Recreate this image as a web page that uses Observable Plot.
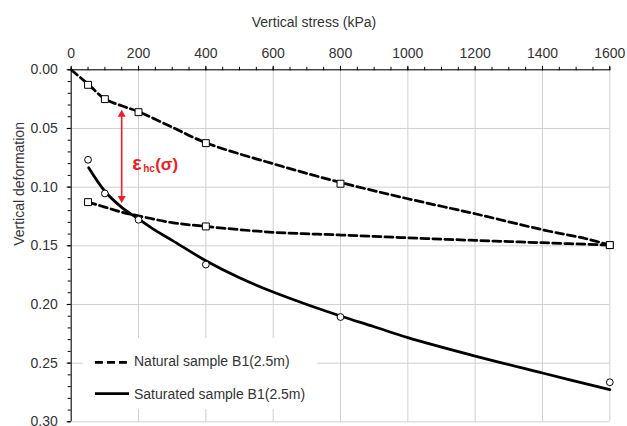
<!DOCTYPE html>
<html>
<head>
<meta charset="utf-8">
<script src="https://cdn.jsdelivr.net/npm/d3@7"></script>
<script src="https://cdn.jsdelivr.net/npm/@observablehq/plot@0.6"></script>
<style>
  html, body { margin: 0; padding: 0; background: #fff; }
  #wrap { position: relative; width: 627px; height: 426px; overflow: hidden; }
  #legend { position: absolute; left: 83px; top: 338px; width: 234px; height: 71px; background: #fff; }
</style>
</head>
<body>
<div id="wrap"></div>
<script>
// ---- tick labels ----
const xTicks = [0, 200, 400, 600, 800, 1000, 1200, 1400, 1600];
const yTicks = [0, 0.05, 0.10, 0.15, 0.20, 0.25, 0.30];

// ---- series names ----
const seriesNames = ["Natural sample B1(2.5m)", "Saturated sample B1(2.5m)"];

// ---- measured points ----
const stressPts = [50, 100, 200, 400, 800, 1600];
const naturalPts = [0.0128, 0.0250, 0.0361, 0.0625, 0.0971, 0.1494];
const naturalWetStress = [50, 400, 1600];
const naturalWetPts = [0.1128, 0.1335, 0.1494];
const saturatedPts = [0.0767, 0.1054, 0.1278, 0.1660, 0.2107, 0.2663];

// ---- curves ----
const upperCurveStress = [0, 50, 100, 150, 200, 300, 400, 600, 800, 1000, 1200, 1400, 1530, 1600];
const upperCurve = [0, 0.0122, 0.0248, 0.0307, 0.0357, 0.0489, 0.0622, 0.0801, 0.0960, 0.1099, 0.1227, 0.1363, 0.1440, 0.1494];
const lowerCurveStress = [50, 100, 150, 200, 300, 400, 600, 800, 1000, 1200, 1400, 1600];
const lowerCurve = [0.1128, 0.1170, 0.1213, 0.1245, 0.1303, 0.1335, 0.1385, 0.1408, 0.1432, 0.1454, 0.1474, 0.1494];
const satCurveStress = [52, 100, 150, 200, 250, 300, 400, 500, 600, 700, 800, 900, 1000, 1200, 1400, 1600];
const satCurve = [0.0835, 0.1035, 0.1172, 0.1272, 0.1369, 0.1454, 0.1627, 0.1772, 0.1894, 0.2000, 0.2098, 0.2190, 0.2283, 0.2440, 0.2584, 0.2726];

// ---- annotation (arrow at sigma = 150 kPa) ----
const arrowStress = 150;
const arrowEnds = [0.034, 0.1136];
const labelStress = 181;
const labelDeform = 0.0858;

// ---- build tables ----
const zip = (xs, ys) => xs.map((x, i) => ({x, y: ys[i]}));
const natural = zip(stressPts, naturalPts);
const naturalWet = zip(naturalWetStress, naturalWetPts);
const saturated = zip(stressPts, saturatedPts);
const upper = zip(upperCurveStress, upperCurve);
const lower = zip(lowerCurveStress, lowerCurve);
const sat = zip(satCurveStress, satCurve);

const W = 627, H = 426;
const mL = 70.7, mR = 17.7, mT = 69.3, mB = 4.7;
const red = "#ee1f26";
const txt = "#333";
const font = "'Liberation Sans', Arial, sans-serif";
const dash = "8,4";
const lw = 2.75;

const plot = Plot.plot({
  width: W, height: H,
  marginLeft: mL, marginRight: mR, marginTop: mT, marginBottom: mB,
  style: {fontFamily: font, fontSize: "14px", color: txt, background: "#fff", overflow: "visible"},
  x: {domain: [0, 1600]},
  y: {domain: [0, 0.30], reverse: true},
  marks: [
    Plot.gridX(xTicks, {stroke: "#d0d0d0", strokeOpacity: 1, strokeWidth: 1}),
    Plot.gridY(yTicks, {stroke: "#d0d0d0", strokeOpacity: 1, strokeWidth: 1}),
    Plot.ruleY([0], {stroke: "black"}),
    Plot.ruleX([0], {stroke: "black"}),
    Plot.axisX(d3.range(0, 1601, 50), {anchor: "top", tickSize: 3.5, tickFormat: () => "", stroke: "black", label: null}),
    Plot.axisX(xTicks, {anchor: "top", tickSize: 4.5, tickPadding: 7.5, tickFormat: d => String(d), stroke: "black", fill: txt, fontSize: 14, label: null}),
    Plot.axisY(d3.range(0, 0.3001, 0.01), {anchor: "left", tickSize: 3, tickFormat: () => "", stroke: "black", label: null}),
    Plot.axisY(yTicks, {anchor: "left", tickSize: 4, tickPadding: 9.4, tickFormat: d3.format(".2f"), stroke: "black", fill: txt, fontSize: 14, label: null}),
    Plot.text(["Vertical stress (kPa)"], {text: d => d, frameAnchor: "top", dx: W / 2 - (mL + (W - mR)) / 2, dy: -43.3, lineAnchor: "bottom", fill: txt, fontSize: 14}),
    Plot.text(["Vertical deformation"], {text: d => d, frameAnchor: "left", rotate: -90, dx: -51.2, lineAnchor: "middle", fill: txt, fontSize: 14}),
    // curves
    Plot.line(upper, {x: "x", y: "y", curve: "catmull-rom", stroke: "black", strokeWidth: lw, strokeDasharray: dash}),
    Plot.line(lower, {x: "x", y: "y", curve: "catmull-rom", stroke: "black", strokeWidth: lw, strokeDasharray: dash}),
    Plot.line(sat, {x: "x", y: "y", curve: "catmull-rom", stroke: "black", strokeWidth: lw}),
    // points
    Plot.dot(natural, {x: "x", y: "y", symbol: "square", r: 3.9, fill: "white", stroke: "black", strokeWidth: 1}),
    Plot.dot(naturalWet, {x: "x", y: "y", symbol: "square", r: 3.9, fill: "white", stroke: "black", strokeWidth: 1}),
    Plot.dot(saturated, {x: "x", y: "y", symbol: "circle", r: 3.4, fill: "white", stroke: "black", strokeWidth: 1}),
    // arrow annotation
    Plot.ruleX([arrowStress], {x: d => d, y1: arrowEnds[0] + 0.003, y2: arrowEnds[1] - 0.003, stroke: red, strokeWidth: 1.6}),
    Plot.dot([arrowEnds[0]], {x: () => arrowStress, y: d => d, symbol: "triangle", r: 3, fill: red, stroke: "none", dy: 4.67}),
    Plot.dot([arrowEnds[1]], {x: () => arrowStress, y: d => d, symbol: "triangle", r: 3, rotate: 180, fill: red, stroke: "none", dy: -4.67}),
    Plot.text(["ε"], {text: d => d, x: () => labelStress, y: () => labelDeform, textAnchor: "start", lineAnchor: "bottom", fill: red, fontWeight: "bold", fontSize: 20}),
    Plot.text(["hc"], {text: d => d, x: () => labelStress, y: () => labelDeform, dx: 11, dy: 2, textAnchor: "start", lineAnchor: "bottom", fill: red, fontWeight: "bold", fontSize: 10}),
    Plot.text(["(σ)"], {text: d => d, x: () => labelStress, y: () => labelDeform, dx: 23, textAnchor: "start", lineAnchor: "bottom", fill: red, fontWeight: "bold", fontSize: 17})
  ]
});

const wrap = document.getElementById("wrap");
wrap.appendChild(plot);

// ---- legend (inside plot area, white box) ----
const leg = d3.select(wrap).append("div").attr("id", "legend")
  .append("svg").attr("width", 234).attr("height", 71)
  .style("font-family", font).style("font-size", "14px");
const rows = [
  {name: seriesNames[0], dash: dash, ly: 24.3, ty: 27.7},
  {name: seriesNames[1], dash: null, ly: 55.7, ty: 61}
];
rows.forEach(r => {
  leg.append("line").attr("x1", 12).attr("x2", 46).attr("y1", r.ly).attr("y2", r.ly)
    .attr("stroke", "black").attr("stroke-width", lw)
    .attr("stroke-dasharray", r.dash);
  leg.append("text").attr("x", 51).attr("y", r.ty).attr("fill", txt).text(r.name);
});
</script>
</body>
</html>
